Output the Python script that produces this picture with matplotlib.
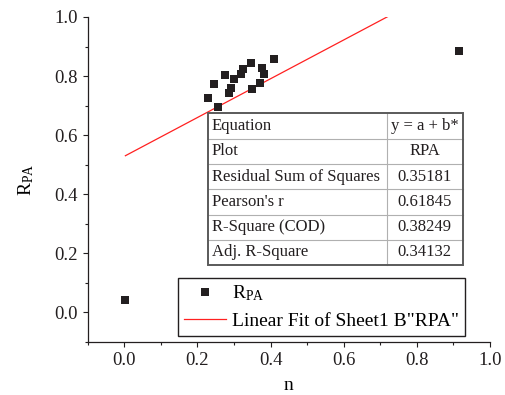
import numpy as np
import matplotlib
matplotlib.use("Agg")
import matplotlib.pyplot as plt
from matplotlib.patches import Rectangle
from matplotlib.lines import Line2D

plt.rcParams['font.family'] = ['Liberation Serif', 'DejaVu Serif']
plt.rcParams['mathtext.fontset'] = 'custom'
plt.rcParams['mathtext.rm'] = 'Liberation Serif'
plt.rcParams['mathtext.it'] = 'Liberation Serif:italic'

# Measured samples
n_values = [0.003, 0.228, 0.255, 0.246, 0.276, 0.285, 0.292, 0.301, 0.318,
            0.325, 0.347, 0.350, 0.372, 0.377, 0.381, 0.408, 0.915]
rpa_values = [0.042, 0.726, 0.695, 0.774, 0.804, 0.743, 0.760, 0.791, 0.808,
              0.825, 0.845, 0.757, 0.777, 0.828, 0.808, 0.859, 0.886]

# Linear fit y = a + b*x
fit_intercept = 0.528
fit_slope = 0.657

# Fit statistics table
table_labels = ["Equation", "Plot", "Residual Sum of Squares", "Pearson's r",
                "R-Square (COD)", "Adj. R-Square"]
table_values = ["y = a + b*", "RPA", "0.35181", "0.61845", "0.38249", "0.34132"]

x_ticks = [0.0, 0.2, 0.4, 0.6, 0.8, 1.0]
y_ticks = [0.0, 0.2, 0.4, 0.6, 0.8, 1.0]

fig = plt.figure(figsize=(5.05, 3.95), dpi=100)
ax = fig.add_axes([0.1737, 0.135, 0.7966, 0.822])

n = np.array(n_values)
r = np.array(rpa_values)
ax.plot(n, r, linestyle='none', marker='s', markersize=5.8,
        color='#231f20', markeredgewidth=0, label=r'R$_{\mathrm{PA}}$', zorder=3)

xf = np.array([n.min(), n.max()])
ax.plot(xf, fit_intercept + fit_slope * xf, color='#ff2020', linewidth=0.9,
        label='Linear Fit of Sheet1 B"RPA"', zorder=2)

ax.set_xlim(-0.1, 1.0)
ax.set_ylim(-0.1, 1.0)
ax.set_xticks(x_ticks)
ax.set_yticks(y_ticks)
ax.set_xticklabels([f"{v:.1f}" for v in x_ticks])
ax.set_yticklabels([f"{v:.1f}" for v in y_ticks])
ax.set_xticks(np.arange(-0.1, 1.0, 0.2), minor=True)
ax.set_yticks(np.arange(-0.1, 1.0, 0.2), minor=True)

for side in ('top', 'right'):
    ax.spines[side].set_visible(False)
for side in ('left', 'bottom'):
    ax.spines[side].set_linewidth(0.9)
    ax.spines[side].set_color('#231f20')

ax.tick_params(which='major', direction='out', length=3.6, width=0.8,
               labelsize=13.5, pad=3.5, colors='#231f20')
ax.tick_params(which='minor', direction='out', length=2.2, width=0.8,
               colors='#231f20')

ax.set_xlabel('n', fontsize=14, labelpad=6)
ax.set_ylabel(r'R$_{\mathrm{PA}}$', fontsize=14, labelpad=13)

leg = ax.legend(loc='lower left', bbox_to_anchor=(0.2237, 0.0185),
                borderaxespad=0, fontsize=14, frameon=True, fancybox=False,
                edgecolor='#231f20', framealpha=1.0, handlelength=2.2,
                handletextpad=0.3, borderpad=0.3, labelspacing=0.45,
                markerscale=1.0)
leg.get_frame().set_linewidth(1.0)
leg.set_zorder(5)

# Statistics table drawn inside the axes
tx0, tx1 = 0.298, 0.932
ty1, ty0 = 0.703, 0.236
split = tx0 + 0.702 * (tx1 - tx0)
nrows = len(table_labels)
rh = (ty1 - ty0) / nrows

ax.add_patch(Rectangle((tx0, ty0), tx1 - tx0, ty1 - ty0, transform=ax.transAxes,
                       facecolor='white', edgecolor='none', zorder=6))
for i in range(1, nrows):
    yy = ty1 - i * rh
    ax.add_line(Line2D([tx0, tx1], [yy, yy], transform=ax.transAxes,
                       color='#b0b0b0', linewidth=0.8, zorder=7))
ax.add_line(Line2D([split, split], [ty0, ty1], transform=ax.transAxes,
                   color='#b0b0b0', linewidth=0.8, zorder=7))
ax.add_patch(Rectangle((tx0, ty0), tx1 - tx0, ty1 - ty0, transform=ax.transAxes,
                       facecolor='none', edgecolor='#5a5a5a', linewidth=1.4,
                       zorder=8))

for i, (lab, val) in enumerate(zip(table_labels, table_values)):
    yc = ty1 - (i + 0.5) * rh
    ax.text(tx0 + 0.01, yc, lab, transform=ax.transAxes, ha='left',
            va='center', fontsize=12, color='#231f20', zorder=9)
    ax.text((split + tx1) / 2, yc, val, transform=ax.transAxes, ha='center',
            va='center', fontsize=12, color='#231f20', zorder=9)

fig.savefig('out.png', dpi=100)
